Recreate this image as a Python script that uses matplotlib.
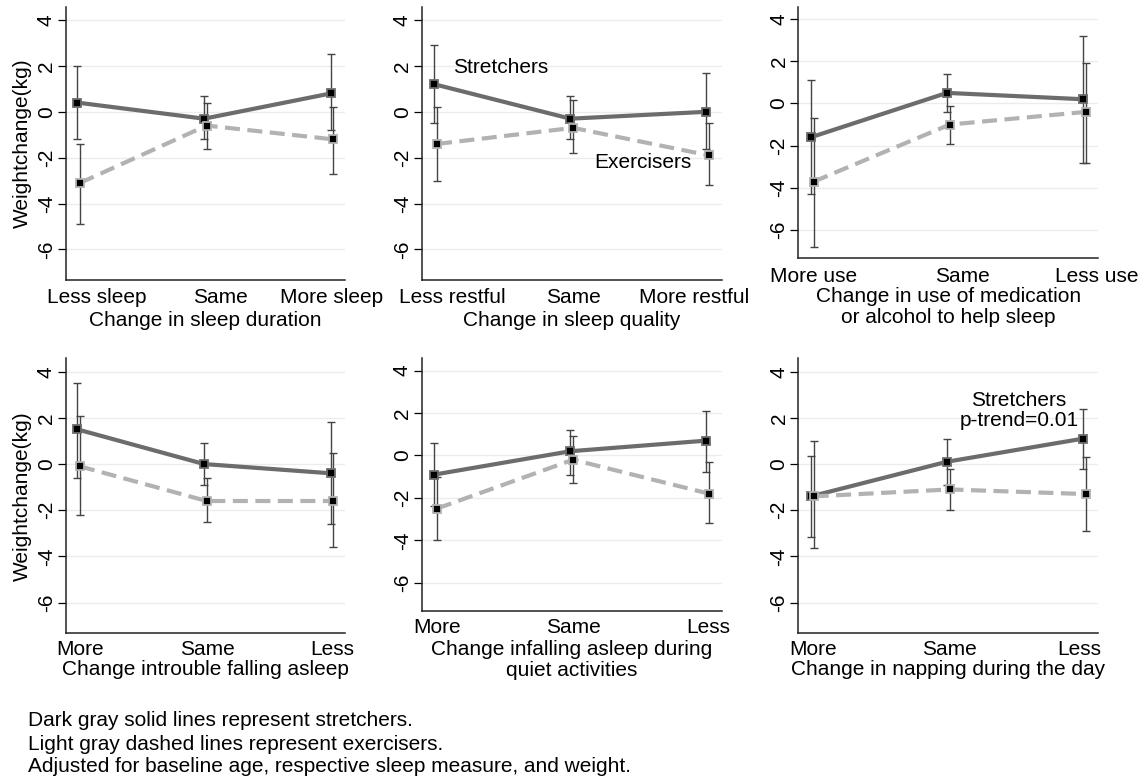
import matplotlib
matplotlib.use("Agg")
import matplotlib.pyplot as plt
import numpy as np
from matplotlib.transforms import ScaledTranslation

plt.rcParams['font.family'] = ['Liberation Sans', 'DejaVu Sans']

# ---------------- data ----------------
cats_duration = ["Less sleep", "Same", "More sleep"]
cats_quality = ["Less restful", "Same", "More restful"]
cats_medication = ["More use", "Same", "Less use"]
cats_trouble = ["More", "Same", "Less"]
cats_quiet = ["More", "Same", "Less"]
cats_napping = ["More", "Same", "Less"]

titles = ["Change in sleep duration",
          "Change in sleep quality",
          "Change in use of medication\nor alcohol to help sleep",
          "Change introuble falling asleep",
          "Change infalling asleep during\nquiet activities",
          "Change in napping during the day"]

# stretchers: mean, lower CI, upper CI
str_duration = [0.4, -0.3, 0.8]
str_duration_lo = [-1.2, -1.2, -0.8]
str_duration_hi = [2.0, 0.7, 2.5]
str_quality = [1.2, -0.3, 0.0]
str_quality_lo = [-0.5, -1.2, -1.6]
str_quality_hi = [2.9, 0.7, 1.7]
str_medication = [-1.6, 0.5, 0.2]
str_medication_lo = [-4.3, -0.4, -2.8]
str_medication_hi = [1.1, 1.4, 3.2]
str_trouble = [1.5, 0.0, -0.4]
str_trouble_lo = [-0.6, -0.9, -2.6]
str_trouble_hi = [3.5, 0.9, 1.8]
str_quiet = [-0.9, 0.2, 0.7]
str_quiet_lo = [-2.4, -0.9, -0.8]
str_quiet_hi = [0.6, 1.2, 2.1]
str_napping = [-1.4, 0.1, 1.1]
str_napping_lo = [-3.15, -0.9, -0.2]
str_napping_hi = [0.33, 1.1, 2.4]

# exercisers
ex_duration = [-3.1, -0.6, -1.2]
ex_duration_lo = [-4.9, -1.6, -2.7]
ex_duration_hi = [-1.4, 0.4, 0.2]
ex_quality = [-1.4, -0.7, -1.9]
ex_quality_lo = [-3.0, -1.8, -3.2]
ex_quality_hi = [0.2, 0.5, -0.5]
ex_medication = [-3.7, -1.0, -0.4]
ex_medication_lo = [-6.8, -1.9, -2.8]
ex_medication_hi = [-0.7, -0.1, 1.9]
ex_trouble = [-0.1, -1.6, -1.6]
ex_trouble_lo = [-2.2, -2.5, -3.6]
ex_trouble_hi = [2.1, -0.6, 0.5]
ex_quiet = [-2.5, -0.2, -1.8]
ex_quiet_lo = [-4.0, -1.3, -3.2]
ex_quiet_hi = [-1.0, 0.9, -0.3]
ex_napping = [-1.4, -1.1, -1.3]
ex_napping_lo = [-3.65, -2.0, -2.9]
ex_napping_hi = [1.0, -0.2, 0.3]

yticks = [-6, -4, -2, 0, 2, 4]

panels = [
    (cats_duration, str_duration, str_duration_lo, str_duration_hi,
     ex_duration, ex_duration_lo, ex_duration_hi),
    (cats_quality, str_quality, str_quality_lo, str_quality_hi,
     ex_quality, ex_quality_lo, ex_quality_hi),
    (cats_medication, str_medication, str_medication_lo, str_medication_hi,
     ex_medication, ex_medication_lo, ex_medication_hi),
    (cats_trouble, str_trouble, str_trouble_lo, str_trouble_hi,
     ex_trouble, ex_trouble_lo, ex_trouble_hi),
    (cats_quiet, str_quiet, str_quiet_lo, str_quiet_hi,
     ex_quiet, ex_quiet_lo, ex_quiet_hi),
    (cats_napping, str_napping, str_napping_lo, str_napping_hi,
     ex_napping, ex_napping_lo, ex_napping_hi),
]

# ---------------- layout (pixels) ----------------
W, H = 1143, 782
fig = plt.figure(figsize=(W / 100, H / 100), dpi=100)

boxes = [  # left, top, right, bottom
    (65.7, 6.7, 345, 280),
    (421.7, 6.7, 721.7, 280),
    (798.3, 6.7, 1098.3, 258.3),
    (65.7, 358.3, 345, 633.3),
    (421.7, 358.3, 721.7, 611),
    (798.3, 358.3, 1098.3, 633.3),
]
# horizontal nudges of x tick labels (pixels)
label_nudge = [
    (19, 16, 1), (18, 3, -12), (3, 15, 14),
    (3, 3, 2), (3, 3, 2), (2, 2, -4),
]
tick_pad = [6, 6, 6, 5, 5, 5]
title_pad = [3, 3, 1.2, 0.8, 2.5, 0.8]

STR_COLOR = '#6c6c6c'
EX_COLOR = '#b2b2b2'
ERR_COLOR = '#444444'
FS = 15
EX_SHIFT = 0.02

axes = []
for i, (box, data) in enumerate(zip(boxes, panels)):
    l, t, r, b = box
    ax = fig.add_axes([l / W, 1 - b / H, (r - l) / W, (b - t) / H])
    axes.append(ax)
    cats, s, slo, shi, e, elo, ehi = data
    x = np.arange(1, len(cats) + 1, dtype=float)
    xe = x + EX_SHIFT
    s, slo, shi = map(np.asarray, (s, slo, shi))
    e, elo, ehi = map(np.asarray, (e, elo, ehi))

    ax.errorbar(x, s, yerr=[s - slo, shi - s], fmt='none', ecolor=ERR_COLOR,
                elinewidth=1.0, capsize=3.2, capthick=1.0, zorder=2)
    ax.errorbar(xe, e, yerr=[e - elo, ehi - e], fmt='none', ecolor=ERR_COLOR,
                elinewidth=1.0, capsize=3.2, capthick=1.0, zorder=2)
    ax.plot(x, s, color=STR_COLOR, lw=3.0, solid_capstyle='butt', zorder=3)
    ax.plot(xe, e, color=EX_COLOR, lw=3.0, linestyle=(0, (3.6, 1.8)), zorder=3)
    ax.plot(x, s, linestyle='none', marker='s', ms=5.8, mfc='black',
            mec=STR_COLOR, mew=1.3, zorder=4)
    ax.plot(xe, e, linestyle='none', marker='s', ms=5.8, mfc='black',
            mec=EX_COLOR, mew=1.3, zorder=4)

    ax.set_xlim(0.907, 3.113)
    ax.set_ylim(-7.33, 4.58)
    ax.set_yticks(yticks)
    ax.set_yticklabels([str(v) for v in yticks])
    ax.set_xticks(x)
    ax.set_xticklabels(cats)
    ax.tick_params(axis='y', direction='out', length=6, width=0.9, pad=1,
                   labelsize=FS, labelrotation=90)
    for lab in ax.get_yticklabels():
        lab.set_va('center')
    ax.tick_params(axis='x', length=0, pad=tick_pad[i], labelsize=FS)
    for lab, dx in zip(ax.get_xticklabels(), label_nudge[i]):
        lab.set_transform(lab.get_transform() +
                          ScaledTranslation(dx / 100, 0, fig.dpi_scale_trans))
    ax.set_xlabel(titles[i], fontsize=FS, labelpad=title_pad[i],
                  linespacing=1.1)

    ax.yaxis.grid(True, color='#ececec', lw=1.0)
    ax.set_axisbelow(True)
    for side in ('top', 'right'):
        ax.spines[side].set_visible(False)
    for side in ('left', 'bottom'):
        ax.spines[side].set_linewidth(1.1)
        ax.spines[side].set_color('#222222')

    if i in (0, 3):
        ax.set_ylabel("Weightchange(kg)", fontsize=FS)
        ax.yaxis.set_label_coords(-(l - 32) / (r - l), 0.5)

# annotations
axes[1].text(1.49, 1.91, "Stretchers", fontsize=FS, ha='center', va='center')
axes[1].text(2.53, -2.22, "Exercisers", fontsize=FS, ha='center', va='center')
axes[5].text(2.53, 2.31, "Stretchers\np-trend=0.01", fontsize=FS,
             ha='center', va='center', linespacing=1.1)

# footnotes
notes = ["Dark gray solid lines represent stretchers.",
         "Light gray dashed lines represent exercisers.",
         "Adjusted for baseline age, respective sleep measure, and weight."]
for k, note in enumerate(notes):
    fig.text(28 / W, 1 - (721 + 23 * k) / H, note, fontsize=FS,
             ha='left', va='center')

fig.savefig("out.png", dpi=100)
